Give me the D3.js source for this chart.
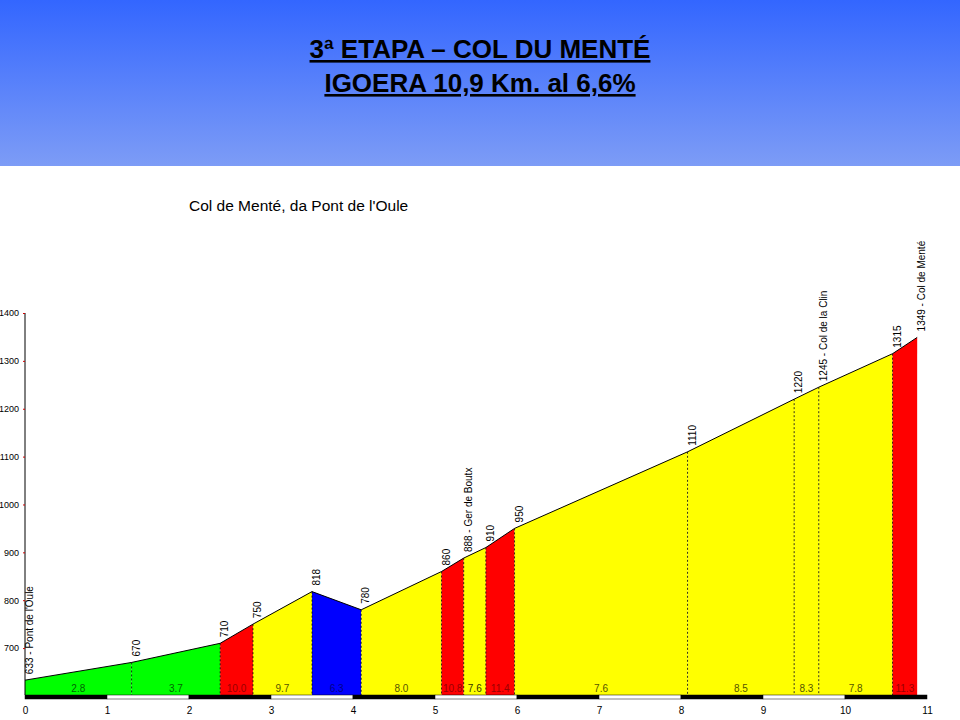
<!DOCTYPE html><html><head><meta charset="utf-8"><script src="https://cdn.jsdelivr.net/npm/d3@7"></script>
<style>body{margin:0;background:#fff}svg{display:block;font-family:"Liberation Sans",Arial,sans-serif}</style></head><body><svg id="c" width="960" height="720"></svg><script>
const km=[0,1.3,2.38,2.78,3.5,4.1,5.08,5.35,5.62,5.97,8.08,9.38,9.68,10.58,10.88];
const elev=[633,670,710,750,818,780,860,888,910,950,1110,1220,1245,1315,1349];
const names=["633 - Pont de l'Oule","670","710","750","818","780","860","888 - Ger de Boutx","910","950","1110","1220","1245 - Col de la Clin","1315","1349 - Col de Menté"];
const grads=["2.8","3.7","10.0","9.7","6.3","8.0","10.8","7.6","11.4","7.6","8.5","8.3","7.8","11.3"];
const segColors=["#00ff00","#00ff00","#ff0000","#ffff00","#0000ff","#ffff00","#ff0000","#ffff00","#ff0000","#ffff00","#ffff00","#ffff00","#ffff00","#ff0000"];
const gradText=["#006600","#006600","#990000","#555500","#000088","#555500","#990000","#333300","#990000","#555500","#555500","#555500","#555500","#990000"];
const yTicks=[700,800,900,1000,1100,1200,1300,1400];
const xTicks=d3.range(0,12);
const svg=d3.select("#c");
const defs=svg.append("defs");
const lg=defs.append("linearGradient").attr("id","hg").attr("x1",0).attr("x2",0).attr("y1",0).attr("y2",1);
lg.append("stop").attr("offset",0).attr("stop-color","#3366ff");
lg.append("stop").attr("offset",1).attr("stop-color","#7d9cf6");
svg.append("rect").attr("width",960).attr("height",166).attr("fill","url(#hg)");
svg.append("text").attr("x",480).attr("y",58).attr("text-anchor","middle").attr("font-size",26).attr("font-weight","bold").attr("text-decoration","underline").text("3ª ETAPA – COL DU MENTÉ");
svg.append("text").attr("x",480).attr("y",92).attr("text-anchor","middle").attr("font-size",26).attr("font-weight","bold").attr("text-decoration","underline").text("IGOERA 10,9 Km. al 6,6%");
svg.append("text").attr("x",189).attr("y",211).attr("font-size",15.5).text("Col de Menté, da Pont de l'Oule");
const x=d3.scaleLinear().domain([0,11]).range([25,927]);
const y=d3.scaleLinear().domain([602,1400]).range([695,313]);
for(let i=0;i<km.length-1;i++){
 svg.append("path").attr("fill",segColors[i]).attr("d",`M${x(km[i])},${y(602)}L${x(km[i])},${y(elev[i])}L${x(km[i+1])},${y(elev[i+1])}L${x(km[i+1])},${y(602)}Z`);
 svg.append("text").attr("x",(x(km[i])+x(km[i+1]))/2).attr("y",692).attr("text-anchor","middle").attr("font-size",10).attr("fill",gradText[i]).text(grads[i]);
}
svg.append("path").datum(km.map((k,i)=>[k,elev[i]])).attr("fill","none").attr("stroke","#000").attr("stroke-width",1).attr("d",d3.line().x(d=>x(d[0])).y(d=>y(d[1])));
km.forEach((k,i)=>{ if(i>0&&i<km.length-1) svg.append("line").attr("x1",x(k)).attr("x2",x(k)).attr("y1",y(elev[i])).attr("y2",y(602)).attr("stroke","#000").attr("stroke-dasharray","2,2").attr("stroke-width",0.8);
 svg.append("text").attr("transform",`translate(${x(k)+8},${y(elev[i])-6}) rotate(-90)`).attr("font-size",10).text(names[i]);});
for(let i=0;i<11;i++) svg.append("rect").attr("x",x(i)).attr("y",695).attr("width",x(i+1)-x(i)).attr("height",4).attr("fill",i%2?"#fff":"#000").attr("stroke","#000").attr("stroke-width",0.5);
const xa=svg.append("g").attr("transform","translate(0,700)").call(d3.axisBottom(x).tickValues(xTicks).tickSize(0).tickFormat(d3.format("d")));
xa.select(".domain").remove();xa.selectAll("text").attr("font-size",10).attr("dy","1.1em").attr("font-family","Liberation Sans, Arial");
const ya=svg.append("g").attr("transform","translate(25,0)").call(d3.axisLeft(y).tickValues(yTicks).tickSize(2).tickFormat(d3.format("d")));
ya.select(".domain").attr("d",`M0,${y(1400)}V${y(602)}`);ya.selectAll("line").attr("stroke","#c00");
ya.selectAll("text").attr("font-size",9).attr("x",-6).attr("font-family","Liberation Sans, Arial");
</script></body></html>
